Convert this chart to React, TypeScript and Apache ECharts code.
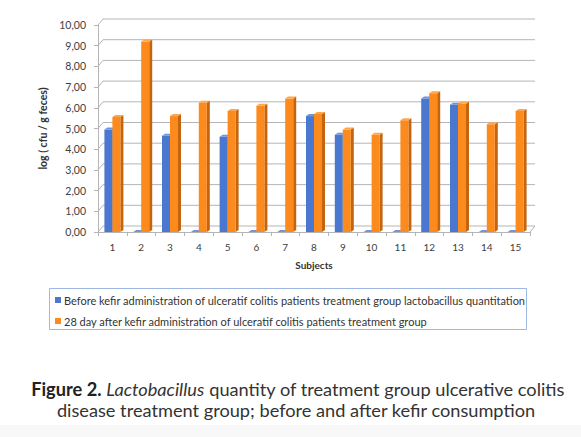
import React, { useEffect, useRef } from "react";
import * as echarts from "echarts";

const categories = ["1", "2", "3", "4", "5", "6", "7", "8", "9", "10", "11", "12", "13", "14", "15"];
const beforeValues = [4.95, 0, 4.65, 0, 4.6, 0, 0, 5.6, 4.7, 0, 0, 6.45, 6.15, 0, 0];
const afterValues = [5.55, 9.2, 5.6, 6.25, 5.85, 6.1, 6.45, 5.7, 4.95, 4.7, 5.4, 6.7, 6.2, 5.2, 5.85];
const yTicks = [0, 1, 2, 3, 4, 5, 6, 7, 8, 9, 10];
const seriesNames = [
  "Before kefir administration of ulceratif colitis patients treatment group lactobacillus quantitation",
  "28 day after kefir administration of ulceratif colitis patients treatment group",
];
const captionLine1Rich = "{b|Figure 2.} {i|Lactobacillus} quantity of treatment group ulcerative colitis";
const captionLine2 = "disease treatment group; before and after kefir consumption";

const FONT = "Lato, 'Open Sans', sans-serif";
const GRID_COLOR = "#b5b5b5";
const CAP_SIZE = 18.2;

function barRenderer(side: number, front: string, sideColor: string, topColor: string) {
  return (params: any, api: any) => {
    const idx = api.value(0);
    const v = api.value(1);
    const base = api.coord([idx, 0]);
    const top = api.coord([idx, v]);
    const w = 8;
    const dx = 3;
    const dy = 2;
    const x = side < 0 ? base[0] - w : base[0];
    const yT = top[1];
    const yB = base[1];
    return {
      type: "group",
      children: [
        {
          type: "polygon",
          shape: { points: [[x + w, yT], [x + w + dx, yT - dy], [x + w + dx, yB - dy], [x + w, yB]] },
          style: { fill: sideColor },
        },
        { type: "rect", shape: { x, y: yT, width: w, height: yB - yT }, style: { fill: front } },
        {
          type: "polygon",
          shape: { points: [[x, yT], [x + dx, yT - dy], [x + w + dx, yT - dy], [x + w, yT]] },
          style: { fill: topColor },
        },
      ],
    };
  };
}

function wallRenderer(params: any, api: any) {
  const cs = params.coordSys;
  const t = api.value(1);
  const y = api.coord([0, t])[1];
  const children: any[] = [
    {
      type: "polyline",
      shape: { points: [[cs.x, y], [cs.x + 5, y - 6], [cs.x + cs.width + 5, y - 6]] },
      style: { stroke: GRID_COLOR, lineWidth: 1, fill: null },
    },
  ];
  if (t === 0) {
    children.push({
      type: "line",
      shape: { x1: cs.x + cs.width, y1: y, x2: cs.x + cs.width + 5, y2: y - 6 },
      style: { stroke: GRID_COLOR, lineWidth: 1 },
    });
  }
  return { type: "group", children };
}

export default function App() {
  const ref = useRef<HTMLDivElement>(null);
  useEffect(() => {
    document.body.style.margin = "0";
    const chart = echarts.init(ref.current!, null, { renderer: "svg" });
    chart.setOption({
      animation: false,
      backgroundColor: "#ffffff",
      grid: { left: 98, right: 51, top: 25, bottom: 205, containLabel: false },
      legend: {
        orient: "vertical",
        left: 51,
        top: 288,
        padding: [6, 4, 3, 4],
        itemGap: 9,
        itemWidth: 6,
        itemHeight: 6,
        icon: "rect",
        textStyle: { fontFamily: FONT, fontSize: 11, color: "#333333", lineHeight: 12, padding: [0, 0, 0, -2] },
        data: seriesNames,
      },
      xAxis: {
        type: "category",
        data: categories,
        name: "Subjects",
        nameLocation: "middle",
        nameGap: 28,
        nameTextStyle: { fontFamily: FONT, fontSize: 10, fontWeight: "bold", color: "#333333" },
        axisLine: { show: true, lineStyle: { color: GRID_COLOR, width: 1 } },
        axisTick: { show: true, length: 4, lineStyle: { color: GRID_COLOR } },
        axisLabel: { fontFamily: FONT, fontSize: 10, color: "#404040", margin: 10 },
      },
      yAxis: {
        type: "value",
        min: 0,
        max: 10,
        interval: 1,
        name: "log ( cfu / g feces)",
        nameLocation: "middle",
        nameGap: 44,
        nameTextStyle: { fontFamily: FONT, fontSize: 10.5, fontWeight: "bold", color: "#333333" },
        axisLine: { show: true, lineStyle: { color: GRID_COLOR, width: 1 } },
        axisTick: { show: true, length: 4, lineStyle: { color: GRID_COLOR } },
        splitLine: { show: false },
        axisLabel: {
          fontFamily: FONT,
          fontSize: 10.5,
          color: "#404040",
          margin: 12,
          formatter: (v: number) => v.toFixed(2).replace(".", ","),
        },
      },
      series: [
        {
          type: "custom",
          name: "wall",
          z: 1,
          silent: true,
          renderItem: wallRenderer,
          data: yTicks.map((t) => [0, t]),
          encode: { x: 0, y: 1 },
        },
        {
          type: "custom",
          name: seriesNames[0],
          z: 3,
          itemStyle: { color: "#4a78d0" },
          renderItem: barRenderer(-1, "#4a78d0", "#345aa6", "#6f95de"),
          data: beforeValues.map((v, i) => [i, v]),
          encode: { x: 0, y: 1 },
        },
        {
          type: "custom",
          name: seriesNames[1],
          z: 3,
          itemStyle: { color: "#fd8a1c" },
          renderItem: barRenderer(1, "#fd8a1c", "#c5640f", "#ffa54a"),
          data: afterValues.map((v, i) => [i, v]),
          encode: { x: 0, y: 1 },
        },
      ],
      graphic: [
        {
          type: "rect",
          z: -1,
          shape: { x: 49.5, y: 288.5, width: 477, height: 41 },
          style: { fill: "none", stroke: "#9fb7e3", lineWidth: 1 },
        },
        {
          type: "rect",
          z: -2,
          shape: { x: 0, y: 425, width: 581, height: 12 },
          style: { fill: "#f8f8f8" },
        },
        {
          type: "text",
          x: 298,
          y: 389,
          style: {
            text: captionLine1Rich,
            fontFamily: FONT,
            fontSize: CAP_SIZE,
            fill: "#333333",
            align: "center",
            verticalAlign: "middle",
            rich: {
              b: { fontFamily: FONT, fontSize: CAP_SIZE, fontWeight: "bold", fill: "#222222" },
              i: { fontFamily: FONT, fontSize: CAP_SIZE, fontStyle: "italic", fill: "#333333" },
            },
          },
        },
        {
          type: "text",
          x: 296,
          y: 410,
          style: {
            text: captionLine2,
            fontFamily: FONT,
            fontSize: CAP_SIZE,
            fill: "#333333",
            align: "center",
            verticalAlign: "middle",
          },
        },
      ],
    });
    return () => chart.dispose();
  }, []);
  return <div ref={ref} style={{ width: 581, height: 437 }} />;
}
